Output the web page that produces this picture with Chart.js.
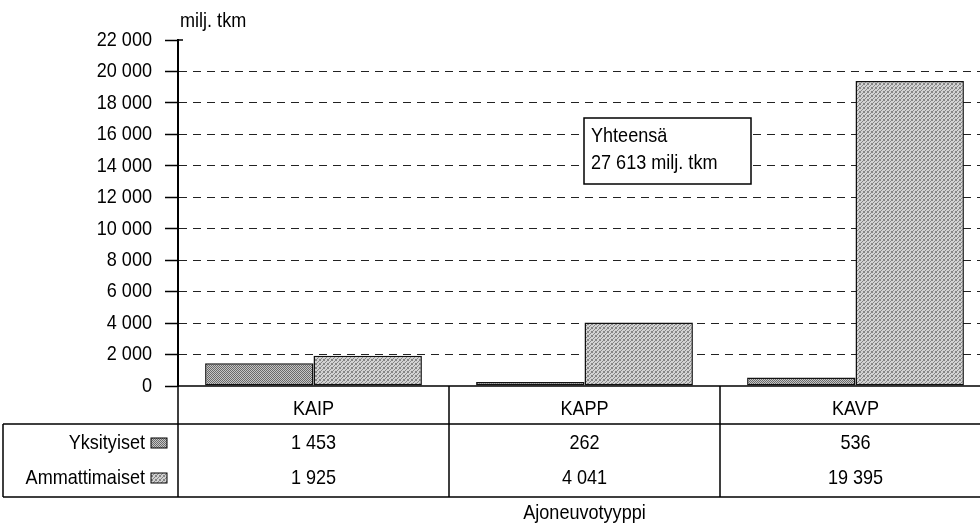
<!DOCTYPE html>
<html>
<head>
<meta charset="utf-8">
<script src="https://cdn.jsdelivr.net/npm/chart.js@4.4.0/dist/chart.umd.min.js"></script>
<style>
  html, body { margin: 0; background: #fff; overflow: hidden; }
  #wrap { width: 1000px; height: 532px; position: relative; }
</style>
</head>
<body>
<div id="wrap"><canvas id="c"></canvas></div>
<script>
// Data
const categories = ['KAIP', 'KAPP', 'KAVP'];
const yksityiset = [1453, 262, 536];
const ammattimaiset = [1925, 4041, 19395];
const seriesNames = ['Yksityiset', 'Ammattimaiset'];
const yMin = 0, yMax = 22000, yStep = 2000;
const unitLabel = 'milj. tkm';
const axisTitle = 'Ajoneuvotyyppi';
const noteLines = ['Yhteensä', '27 613 milj. tkm'];

// the scan uses a narrow face; squeeze Liberation Sans sideways to match
const FONT = '21px "Liberation Sans", Arial, sans-serif';
const SX = 0.86;

const fmt = v => String(v).replace(/\B(?=(\d{3})+(?!\d))/g, ' ');

function text(ctx, s, x, y, align) {
  ctx.save();
  ctx.translate(x, y);
  ctx.scale(SX, 1);
  ctx.font = FONT;
  ctx.fillStyle = '#000';
  ctx.textAlign = align;
  ctx.textBaseline = 'middle';
  ctx.fillText(s, 0, 0);
  ctx.restore();
}

// small stippled fills like the printed greys
function makePattern(dark, light, mask) {
  const n = mask.length;
  const cv = document.createElement('canvas');
  cv.width = cv.height = n;
  const g = cv.getContext('2d');
  for (let y = 0; y < n; y++) {
    for (let x = 0; x < n; x++) {
      g.fillStyle = mask[y][x] === '1' ? dark : light;
      g.fillRect(x, y, 1, 1);
    }
  }
  return g.createPattern(cv, 'repeat');
}
const fillY = makePattern('#6a6a6a', '#c6c6c6', ['1010', '0101', '1010', '0101']);
const fillA = makePattern('#858585', '#d2d2d2', ['1001', '0010', '0100', '1001']);
const fills = [fillY, fillA];

const tablePlugin = {
  id: 'table',
  afterDraw(chart) {
    const { ctx, chartArea: a, scales } = chart;
    const x = scales.x, y = scales.y;
    const w = (a.right - a.left) / categories.length;
    const b = a.bottom;
    const rowCat = b + 23, line1 = b + 38, row1 = b + 57, row2 = b + 92, line2 = b + 111;
    const tableLeft = 3;

    // y tick labels
    y.ticks.forEach(t => {
      text(ctx, fmt(t.value), a.left - 26, y.getPixelForValue(t.value), 'right');
    });

    ctx.save();
    ctx.strokeStyle = '#000';
    ctx.lineWidth = 1.5;
    ctx.beginPath();
    ctx.moveTo(a.left, b); ctx.lineTo(a.right, b);
    ctx.moveTo(a.left, a.top); ctx.lineTo(a.left + 5, a.top);
    ctx.moveTo(tableLeft, line1); ctx.lineTo(a.right, line1);
    ctx.moveTo(tableLeft, line2); ctx.lineTo(a.right, line2);
    ctx.moveTo(tableLeft, line1); ctx.lineTo(tableLeft, line2);
    for (let i = 0; i <= categories.length; i++) {
      const xx = a.left + i * w;
      ctx.moveTo(xx, b); ctx.lineTo(xx, line2);
    }
    ctx.stroke();
    ctx.restore();

    categories.forEach((c, i) => {
      const cx = x.getPixelForValue(i);
      text(ctx, c, cx, rowCat, 'center');
      text(ctx, fmt(yksityiset[i]), cx, row1, 'center');
      text(ctx, fmt(ammattimaiset[i]), cx, row2, 'center');
    });

    // row labels with legend swatches
    [row1, row2].forEach((ry, k) => {
      text(ctx, seriesNames[k], 145, ry, 'right');
      ctx.save();
      ctx.fillStyle = fills[k];
      ctx.fillRect(151, ry - 5, 16, 10);
      ctx.strokeStyle = '#000';
      ctx.lineWidth = 1;
      ctx.strokeRect(151, ry - 5, 16, 10);
      ctx.restore();
    });

    text(ctx, unitLabel, a.left + 2, 21, 'left');
    text(ctx, axisTitle, (a.left + a.right) / 2, 513, 'center');

    // total note box
    const bx = 584, by = 118, bw = 167, bh = 66;
    ctx.save();
    ctx.fillStyle = '#fff';
    ctx.fillRect(bx, by, bw, bh);
    ctx.strokeStyle = '#000';
    ctx.lineWidth = 1.5;
    ctx.strokeRect(bx, by, bw, bh);
    ctx.restore();
    text(ctx, noteLines[0], bx + 7, 136, 'left');
    text(ctx, noteLines[1], bx + 7, 163, 'left');
  }
};

new Chart(document.getElementById('c'), {
  type: 'bar',
  data: {
    labels: categories,
    datasets: [
      { label: seriesNames[0], data: yksityiset, backgroundColor: fillY, borderColor: '#111', borderWidth: 1.5, borderSkipped: false },
      { label: seriesNames[1], data: ammattimaiset, backgroundColor: fillA, borderColor: '#111', borderWidth: 1.5, borderSkipped: false }
    ]
  },
  options: {
    responsive: true,
    maintainAspectRatio: false,
    animation: false,
    layout: { padding: { top: 40, right: 9, bottom: 146, left: 0 } },
    datasets: { bar: { barPercentage: 1, categoryPercentage: 0.8 } },
    plugins: { legend: { display: false }, tooltip: { enabled: false } },
    scales: {
      x: { display: false },
      y: {
        min: yMin,
        max: yMax,
        afterFit(scale) { scale.width = 178; },
        ticks: { stepSize: yStep, display: false },
        grid: {
          color: c => (c.tick && (c.tick.value === yMin || c.tick.value === yMax)) ? 'rgba(0,0,0,0)' : '#222',
          lineWidth: 1,
          tickColor: '#000',
          tickLength: 13,
          tickWidth: 1.5
        },
        border: { display: true, color: '#000', width: 2, dash: [8, 6] }
      }
    }
  },
  plugins: [tablePlugin]
});
</script>
</body>
</html>
